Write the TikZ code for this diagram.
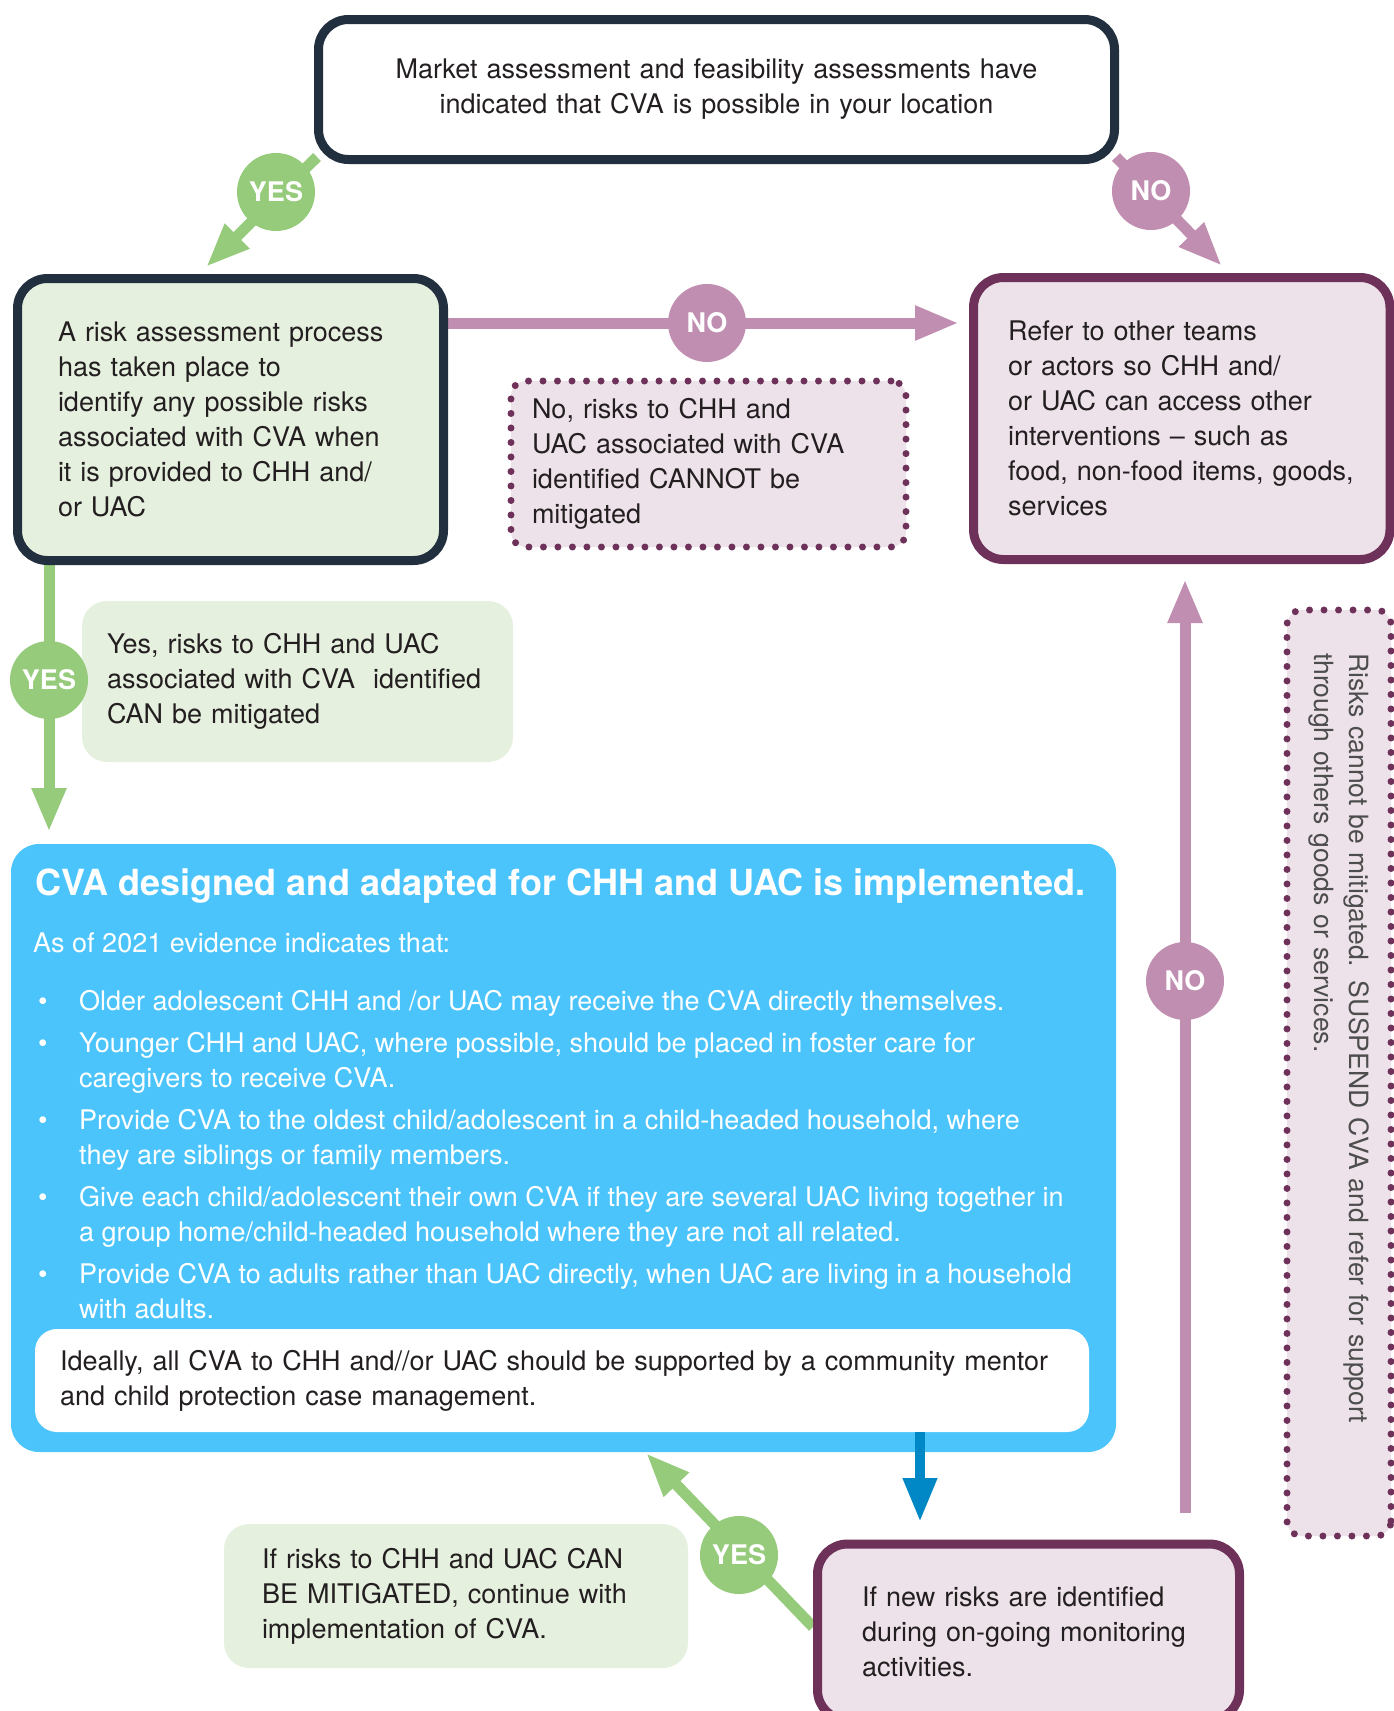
\documentclass[tikz,border=0pt]{standalone}
\usepackage{fontspec}
\setmainfont{TeX Gyre Heros}
\usetikzlibrary{arrows.meta,backgrounds,calc}

\definecolor{navy}{HTML}{222F3E}
\definecolor{ggreen}{HTML}{95CB7B}
\definecolor{lgreen}{HTML}{E6F0DF}
\definecolor{pinkc}{HTML}{C08EB0}
\definecolor{plum}{HTML}{6E3159}
\definecolor{lpink}{HTML}{EDE2E9}
\definecolor{cvablue}{HTML}{4BC4FC}
\definecolor{dblue}{HTML}{0088C6}
\definecolor{txt}{HTML}{231F20}
\definecolor{graytxt}{HTML}{4D4D4D}

\begin{document}
\begin{tikzpicture}[x=1pt,y=-1pt,
  every node/.style={text=txt},
  body/.style={font=\fontsize{27}{35}\selectfont},
  panel/.style={rectangle, rounded corners=#1, align=left, inner sep=0pt, body},
  dotframe/.style={draw=plum, line width=7pt, dash pattern=on 0pt off 14.5pt, line cap=round},
  decision/.style={circle, minimum size=78pt, inner sep=0pt, text=white,
    font=\fontsize{27}{30}\selectfont\bfseries},
  tipstyle/.style={-{Triangle[length=44pt,width=32pt]}},
  yesarrow/.style={tipstyle, draw=ggreen, line width=11pt},
  noarrow/.style={tipstyle, draw=pinkc, line width=11pt},
  bluearrow/.style={tipstyle, draw=dblue, line width=10pt},
]
\useasboundingbox (0,0) rectangle (1394,1711);

% boxes
\node[panel=30pt, draw=navy, line width=9pt, fill=white, minimum width=796pt,
  minimum height=140pt, text width=700pt, align=center] (top) at (716.5,89.5)
  {Market assessment and feasibility assessments have\\indicated that CVA is possible in your location};

\node[panel=30pt, draw=navy, line width=9pt, fill=lgreen, minimum width=426pt,
  minimum height=282pt, text width=345pt] (risk) at (230.5,419.5)
  {A risk assessment process\\has taken place to\\identify any possible risks\\associated with CVA when\\it is provided to CHH and/\\or UAC};

\node[panel=30pt, draw=plum, line width=9pt, fill=lpink, minimum width=416.5pt,
  minimum height=282pt, text width=347.5pt] (refer) at (1181.75,418.5)
  {\mbox{Refer to other teams}\\\mbox{or actors so CHH and/}\\\mbox{or UAC can access other}\\\mbox{interventions – such as}\\\mbox{food, non-food items, goods,}\\services};

\node[panel=15pt, dotframe, fill=lpink, minimum width=395pt, minimum height=166pt,
  text width=353pt] (nobox) at (708.5,464)
  {No, risks to CHH and\\UAC associated with CVA\\identified CANNOT be\\mitigated};

\node[panel=25pt, fill=lgreen, minimum width=431pt, minimum height=161pt,
  text width=381pt] (yesbox) at (297.5,681.5)
  {Yes, risks to CHH and UAC\\associated with CVA\ \ identified\\CAN be mitigated};

\node[panel=28pt, fill=cvablue, minimum width=1105pt, minimum height=608pt] (cva) at (563.5,1148) {};

\node[anchor=base west, inner sep=0pt, text=white, font=\fontsize{36}{40}\selectfont\bfseries] (title) at (35,895)
  {CVA designed and adapted for CHH and UAC is implemented.};
\node[anchor=base west, inner sep=0pt, text=white, body] (intro) at (33,952)
  {As of 2021 evidence indicates that:};
\node[anchor=base west, inner sep=0pt, text=white, font=\fontsize{27}{34.5}\selectfont] (bullets) at (38,1010)
  {\begin{tabular}[t]{@{}p{41pt}@{}l@{}}
  \textbullet & Older adolescent CHH and /or UAC may receive the CVA directly themselves.\\[8pt]
  \textbullet & Younger CHH and UAC, where possible, should be placed in foster care for\\
   & caregivers to receive CVA.\\[8pt]
  \textbullet & Provide CVA to the oldest child/adolescent in a child-headed household, where\\
   & they are siblings or family members.\\[8pt]
  \textbullet & Give each child/adolescent their own CVA if they are several UAC living together in\\
   & a group home/child-headed household where they are not all related.\\[8pt]
  \textbullet & Provide CVA to adults rather than UAC directly, when UAC are living in a household\\
   & with adults.
  \end{tabular}};

\node[panel=22pt, fill=white, minimum width=1054pt, minimum height=103pt,
  text width=1004pt] (white) at (562,1380.5)
  {Ideally, all CVA to CHH and//or UAC should be supported by a community mentor\\and child protection case management.};

\node[panel=30pt, draw=plum, line width=9pt, fill=lpink, minimum width=422pt,
  minimum height=176pt, text width=333pt] (monitor) at (1028.5,1632)
  {If new risks are identified\\during on-going monitoring\\activities.};

\node[panel=25pt, fill=lgreen, minimum width=464pt, minimum height=144pt,
  text width=388pt] (contbox) at (456,1596)
  {If risks to CHH and UAC CAN\\BE MITIGATED, continue with\\implementation of CVA.};

\node[panel=15pt, dotframe, fill=lpink, rotate=-90, minimum width=926pt,
  minimum height=104pt, text width=840pt, text=graytxt,
  font=\fontsize{26.5}{35}\selectfont] (suspend) at (1339,1073)
  {Risks cannot be mitigated. SUSPEND CVA and refer for support\\through others goods or services.};

% connector end points
\coordinate (yesAtip) at (206,267);
\coordinate (noAtip) at (1222,266);
\coordinate (noHtip) at (959,323);
\coordinate (yesLtip) at (49,832);
\coordinate (noVtip) at (1185,579);
\coordinate (noVstart) at (1185,1513);
\coordinate (bluetip) at (920,1522);
\coordinate (yesBtip) at (646,1453);

\begin{pgfonlayer}{background}
  \draw[yesarrow] ($(top.south west)+(3,-7)$) -- (yesAtip);
  \draw[noarrow] ($(top.south east)+(-3,-7)$) -- (noAtip);
  \draw[noarrow] (risk.east |- noHtip) -- (noHtip);
  \draw[yesarrow] (yesLtip |- risk.south) -- (yesLtip);
  \draw[noarrow] (noVstart) -- (noVtip);
  \draw[yesarrow] ($(monitor.west)+(0,-5)$) -- (yesBtip);
\end{pgfonlayer}
\draw[bluearrow] (bluetip |- white.south) -- (bluetip);

% decision labels
\node[decision, fill=ggreen] (yesA) at (276,192) {YES};
\node[decision, fill=pinkc] (noA) at (1151,191) {NO};
\node[decision, fill=pinkc] (noH) at (707,323) {NO};
\node[decision, fill=ggreen] (yesL) at (49,680) {YES};
\node[decision, fill=pinkc] (noV) at (1185,981) {NO};
\node[decision, fill=ggreen] (yesB) at (739,1555) {YES};
\end{tikzpicture}
\end{document}
